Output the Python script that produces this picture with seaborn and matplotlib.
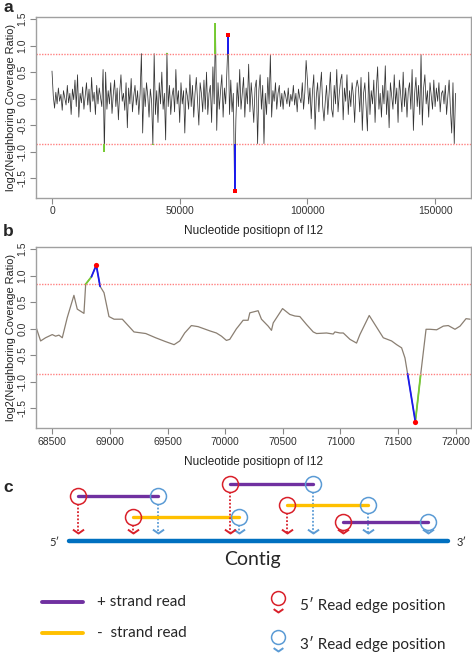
import numpy as np
import pandas as pd
import matplotlib
matplotlib.use("Agg")
import matplotlib.pyplot as plt
import seaborn as sns

# ---- panel a: log2 neighboring coverage ratio along I12 (one value per 500 bp) ----
step_a = 500
ratio_a = [
    0.52, 0.05, -0.18, 0.12, -0.1, 0.2, -0.05, 0.08, -0.22, 0.15, 0.02, -0.12, 0.25, -0.08, 0.1, -0.3, 0.18, -0.02, 0.35, -0.15,
    0.45, -0.35, 0.1, -0.08, 0.22, -0.2, 0.05, 0.3, -0.12, 0.18, -0.25, 0.4, -0.05, 0.12, -0.3, 0.25, -0.1, 0.2, 0.02, -0.15,
    0.55, -1.0, 0.5, -0.2, 0.15, -0.1, 0.3, -0.28, 0.08, 0.35, -0.15, 0.2, -0.4, 0.12, 0.45, -0.05, 0.1, -0.22, 0.3, -0.55,
    0.2, -0.1, 0.38, -0.25, 0.05, 0.25, -0.12, 0.15, -0.3, 0.1, 0.85, -0.65, 0.2, -0.15, 0.3, 0.05, -0.35, 0.18, -0.05, -0.87,
    0.85, -0.3, 0.15, -0.45, 0.3, -0.1, 0.5, -0.2, 0.1, -0.78, 0.86, -0.15, 0.25, -0.3, 0.05, 0.2, -0.25, 0.55, -0.1, 0.15,
    -0.45, 0.3, -0.1, 0.15, -0.65, 0.2, 0.05, -0.2, 0.45, -0.15, 0.25, -0.35, 0.1, 0.4, -0.05, -0.5, 0.3, 0.1, -0.25, 0.35,
    -0.2, 0.5, -0.3, 0.1, 0.25, -0.45, 0.6, -0.1, 1.42, -0.6, 0.3, -0.2, 0.15, 0.45, -0.35, 0.2, -0.1, 0.55, 1.2, -0.3,
    0.35, -0.25, 0.1, -1.75, -0.4, 0.3, -0.15, 0.55, -0.2, 0.1, 0.4, -0.35, 0.2, -0.1, 0.65, -0.25, 0.3, -0.05, -0.45, 0.2,
    0.35, -0.85, 0.15, 0.45, -0.2, 0.25, -0.85, 0.1, -0.3, 0.4, -0.1, 0.82, -0.35, 0.15, -0.05, 0.3, -0.2, 0.1, 0.25, -0.15,
    0.1, -0.2, 0.15, 0.05, -0.1, 0.2, -0.15, 0.08, -0.05, 0.25, -0.12, 0.1, -0.25, 0.18, 0.02, -0.08, 0.3, -0.2, 0.12, 0.72,
    0.35, -0.1, 0.2, -0.38, 0.15, 0.45, -0.58, 0.05, 0.3, -0.25, 0.2, 0.5, -0.15, -0.42, -0.05, 0.25, -0.3, 0.1, 0.5, -0.2,
    -0.35, 0.25, -0.1, 0.55, -0.25, 0.1, 0.35, 0.46, -0.4, 0.2, -0.05, 0.45, -0.3, 0.15, -0.15, 0.3, 0.05, -0.45, 0.2, 0.35,
    0.2, -0.25, 0.4, -0.6, 0.1, 0.3, -0.15, -0.61, 0.5, -0.3, 0.15, -0.1, 0.35, -0.45, 0.2, 0.6, -0.2, 0.1, -0.35, 0.25,
    -0.1, 0.62, -0.3, 0.15, -0.55, 0.3, 0.05, -0.2, 0.45, -0.1, 0.2, -0.45, 0.35, 0.1, -0.25, 0.5, -0.15, 0.2, -0.35, 0.15,
    0.3, -0.2, 0.55, -0.6, 0.1, 0.4, -0.15, 0.25, -0.3, 0.83, -0.5, 0.2, 0.45, -0.1, 0.15, -0.35, 0.3, 0.05, -0.2, 0.35,
    -0.15, 0.2, -0.05, 0.3, -0.25, 0.1, 0.15, -0.1, 0.25, -0.3, 0.05, 0.35, -0.2, -0.65, 0.3, -0.85, 0.1,
]
breakpoints_a = [69000, 71500]   # confirmed edges (blue + red tip); other outliers green

# ---- panel b: zoom on 68350-72130 ----
pos_b = [68355, 68399, 68442, 68500, 68529, 68558, 68587, 68630, 68688, 68717, 68775, 68790, 68840, 68882,
         68915, 68949, 68992, 69036, 69108, 69209, 69311, 69397, 69480, 69557, 69606, 69649, 69707, 69765,
         69867, 69924, 69968, 70011, 70040, 70098, 70113, 70156, 70199, 70214, 70286, 70315, 70373, 70402,
         70417, 70498, 70561, 70605, 70648, 70706, 70764, 70793, 70880, 70938, 70952, 70996, 71025, 71083,
         71140, 71169, 71250, 71372, 71444, 71488, 71531, 71560, 71583, 71650, 71696, 71743, 71777, 71835,
         71893, 71936, 71994, 72038, 72090, 72125]
ratio_b = [0.06, -0.23, -0.17, -0.11, -0.14, -0.12, -0.17, 0.21, 0.63, 0.37, 0.29, 0.84, 0.98, 1.2,
           0.8, 0.68, 0.23, 0.18, 0.18, -0.06, -0.09, -0.17, -0.24, -0.3, -0.23, -0.08, 0.06, 0.04,
           -0.04, -0.08, -0.14, -0.22, -0.2, 0.0, 0.04, 0.16, 0.16, 0.3, 0.34, 0.18, 0.05, -0.03,
           0.11, 0.38, 0.27, 0.24, 0.23, 0.08, -0.06, -0.09, -0.08, -0.1, -0.06, -0.08, -0.08, -0.2,
           -0.27, -0.11, 0.25, -0.17, -0.23, -0.3, -0.36, -0.55, -0.85, -1.75, -0.87, -0.01, -0.01, -0.02,
           0.05, 0.06, -0.01, 0.05, 0.19, 0.18]
green_b = [(68790, 68840), (71650, 71696)]
blue_b = [(68840, 68915), (71583, 71650)]
peaks_b = [68882, 71650]

threshold = 0.85

# ---- panel c: schematic reads on a contig (contig spans 0-100) ----
read_start = [2.4, 16.9, 42.5, 57.5, 72.3]
read_end = [23.5, 44.9, 64.4, 78.9, 94.7]
read_strand = ["+", "-", "+", "-", "+"]
read_row = [496, 517, 484, 505, 522]   # drawing rows (px)

purple, yellow, red_c, blue_c, contig_c = "#7030a0", "#ffc000", "#d9202a", "#5b9bd5", "#0070c0"
green, blue, red = "#77cc33", "#1a1aee", "#ff0000"

sns.set_style("white")
plt.rcParams["font.family"] = ["Liberation Sans", "DejaVu Sans"]

W, H = 472, 661
fig = plt.figure(figsize=(W / 100, H / 100), dpi=100)
ax_a = fig.add_axes([36 / W, 1 - 198 / H, 435 / W, 181.3 / H])
ax_b = fig.add_axes([36 / W, 1 - 428.3 / H, 435 / W, 181.6 / H])

df_a = pd.DataFrame({"pos": np.arange(len(ratio_a)) * step_a, "ratio": ratio_a})
sns.lineplot(data=df_a, x="pos", y="ratio", ax=ax_a, color="#333333", lw=0.55, estimator=None)
for p, v in zip(df_a["pos"], df_a["ratio"]):
    if abs(v) > threshold:
        c = blue if p in breakpoints_a else green
        ax_a.vlines(p, np.sign(v) * threshold, v, color=c, lw=1.4, zorder=3)
bp_a = df_a[df_a["pos"].isin(breakpoints_a)]
sns.scatterplot(data=bp_a, x="pos", y="ratio", ax=ax_a, color=red, s=9, marker="s", linewidth=0, zorder=4)

df_b = pd.DataFrame({"pos": pos_b, "ratio": ratio_b})
sns.lineplot(data=df_b, x="pos", y="ratio", ax=ax_b, color="#8a7f72", lw=0.9, estimator=None)
for segs, c in [(green_b, green), (blue_b, blue)]:
    for s, e in segs:
        sub = df_b[(df_b["pos"] >= s) & (df_b["pos"] <= e)]
        sns.lineplot(data=sub, x="pos", y="ratio", ax=ax_b, color=c, lw=1.3, estimator=None)
sns.scatterplot(data=df_b[df_b["pos"].isin(peaks_b)], x="pos", y="ratio", ax=ax_b,
                color=red, s=14, linewidth=0, zorder=4)

for ax, xlim, xt in [(ax_a, (-6265, 164060), [0, 50000, 100000, 150000]),
                     (ax_b, (68359, 72133), list(range(68500, 72001, 500)))]:
    ax.set_xlim(*xlim)
    ax.set_ylim(-1.877, 1.547)
    ax.axhline(threshold, color="#ff8080", lw=1, ls=(0, (1, 1)))
    ax.axhline(-threshold, color="#ff8080", lw=1, ls=(0, (1, 1)))
    ax.set_xticks(xt)
    ax.set_xticklabels([str(t) for t in xt])
    ax.set_yticks([-1.5, -1.0, -0.5, 0.0, 0.5, 1.0, 1.5])
    ax.set_yticklabels(["-1.5", "-1.0", "-0.5", "0.0", "0.5", "1.0", "1.5"], rotation=90, va="center")
    ax.tick_params(axis="both", length=4, width=0.8, color="#888888", labelsize=7.5,
                   labelcolor="#333333", pad=2, direction="out", bottom=True, left=True)
    for sp in ax.spines.values():
        sp.set_color("#a0a0a0")
        sp.set_linewidth(1)
    ax.set_xlabel("Nucleotide positiopn of I12", fontsize=8.5, color="#222222")
    ax.set_ylabel("log2(Neighboring Coverage Ratio)", fontsize=7.9, color="#222222")
    ax.xaxis.set_label_coords(0.5, -0.15)
    ax.yaxis.set_label_coords(-0.046, 0.5)

fig.text(3 / W, 1.0, "a", fontsize=12.5, fontweight="bold", va="top")
fig.text(3 / W, 1 - 232 / H, "b", fontsize=12.5, fontweight="bold", va="center")
fig.text(3 / W, 1 - 487 / H, "c", fontsize=12.5, fontweight="bold", va="center")

# ---- panel c ----
ax_c = fig.add_axes([0, 0, 1, 201 / H])
ax_c.set_xlim(-18.2, 106.33)
ax_c.set_ylim(661, 460)
ax_c.axis("off")
cfont = ["Lato", "DejaVu Sans"]

contig = pd.DataFrame({"x": [0, 100], "y": [541, 541]})
sns.lineplot(data=contig, x="x", y="y", ax=ax_c, color=contig_c, lw=3.2, estimator=None)
ax_c.text(-2.6, 543, "5\u2032", ha="right", va="center", fontsize=8, family=cfont)
ax_c.text(102.3, 543, "3\u2032", ha="left", va="center", fontsize=8, family=cfont)
ax_c.text(48.5, 560, "Contig", ha="center", va="center", fontsize=14, family=cfont)

chev = [(-1, 0.7), (0, 0), (1, 0.7)]
reads = pd.DataFrame({"start": read_start, "end": read_end, "strand": read_strand, "row": read_row})
for _, r in reads.iterrows():
    col = purple if r["strand"] == "+" else yellow
    seg = pd.DataFrame({"x": [r["start"], r["end"]], "y": [r["row"], r["row"]]})
    sns.lineplot(data=seg, x="x", y="y", ax=ax_c, color=col, lw=2.4, estimator=None)
    for x, c in [(r["start"], red_c), (r["end"], blue_c)]:
        ax_c.plot([x, x], [r["row"] + 8, 533], color=c, lw=1.3, ls=(0, (1, 1)))
        ax_c.plot([x], [533], marker=chev, ms=8, mfc="none", mec=c, mew=1.4)
        ax_c.plot([x], [r["row"]], marker="o", ms=11.5, mfc="none", mec=c, mew=1.1)

# legend
for y, col, lab in [(602, purple, "+ strand read"), (633, yellow, "-  strand read")]:
    ax_c.plot([-7.2, 3.7], [y, y], color=col, lw=2.8)
    ax_c.text(7.4, y, lab, va="center", fontsize=11, family=cfont)
for y, col, lab in [(598, red_c, "5\u2032 Read edge position"), (637, blue_c, "3\u2032 Read edge position")]:
    ax_c.plot([55.1], [y], marker="o", ms=10, mfc="none", mec=col, mew=1.1)
    ax_c.plot([55.1], [y + 14], marker=chev, ms=7, mfc="none", mec=col, mew=1.4)
    ax_c.text(60.9, y + 7, lab, va="center", fontsize=11, family=cfont)

fig.savefig("out.png", dpi=100)
